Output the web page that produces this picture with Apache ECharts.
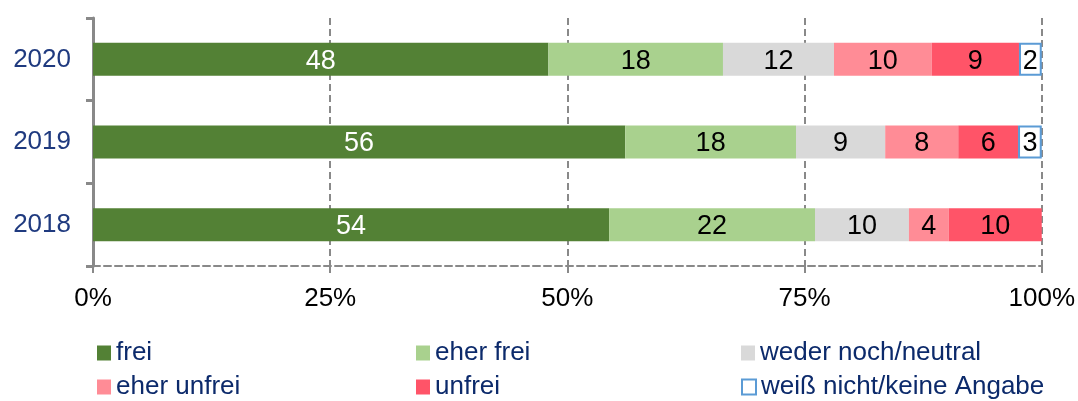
<!DOCTYPE html>
<html>
<head>
<meta charset="utf-8">
<script src="https://cdn.jsdelivr.net/npm/echarts@6/dist/echarts.min.js"></script>
<style>html,body{margin:0;padding:0;background:#fff}#c{width:1078px;height:401px}</style>
</head>
<body>
<div id="c"></div>
<script>
const years = ['2020', '2019', '2018'];
const seriesNames = ['frei', 'eher frei', 'weder noch/neutral', 'eher unfrei', 'unfrei', 'weiß nicht/keine Angabe'];
const frei = [48.0, 56.1, 54.4];
const eherFrei = [18.4, 18.0, 21.7];
const neutral = [11.7, 9.4, 9.9];
const eherUnfrei = [10.3, 7.7, 4.2];
const unfrei = [9.2, 6.3, 9.8];
const weissNicht = [2.4, 2.5, null];
const xTicks = [0, 25, 50, 75, 100];

const values = [frei, eherFrei, neutral, eherUnfrei, unfrei, weissNicht];
const colors = ['#538135', '#A9D18E', '#D9D9D9', '#FF8C96', '#FF5468', '#FFFFFF'];
const font = 'Liberation Sans, Arial, sans-serif';

const series = values.map((v, i) => ({
  name: seriesNames[i],
  type: 'bar',
  stack: 'total',
  barWidth: 33,
  data: v,
  itemStyle: i === 5 ? { color: '#FFFFFF', borderColor: '#5B9BD5', borderWidth: 2 } : { color: colors[i] },
  label: {
    show: true,
    position: 'inside',
    offset: [0, 2],
    color: i === 0 ? '#FFFFFF' : '#000000',
    fontFamily: font,
    fontSize: 27,
    formatter: p => (p.value == null ? '' : String(Math.round(p.value)))
  }
}));

const legendPos = [
  [97, 340], [416, 340], [741, 340],
  [97, 374], [416, 374], [741, 374]
];
const legends = seriesNames.map((n, i) => ({
  left: legendPos[i][0],
  top: legendPos[i][1],
  orient: 'horizontal',
  itemWidth: 14,
  itemHeight: 15,
  itemGap: 0,
  padding: 0,
  selectedMode: false,
  icon: 'rect',
  textStyle: { color: '#0C2A6B', fontFamily: font, fontSize: 26 },
  data: [i === 5 ? { name: n, itemStyle: { color: '#FFFFFF', borderColor: '#5B9BD5', borderWidth: 2 } } : { name: n }]
}));

const chart = echarts.init(document.getElementById('c'));
chart.setOption({
  animation: false,
  legend: legends,
  grid: { left: 93, right: 35, top: 18, bottom: 135, containLabel: false },
  xAxis: {
    type: 'value',
    min: xTicks[0],
    max: xTicks[xTicks.length - 1],
    interval: 25,
    axisLine: { show: true, lineStyle: { color: '#898989', width: 2, type: [7, 4] } },
    axisTick: { show: true, length: 8, lineStyle: { color: '#898989', width: 2, type: [7, 4] } },
    splitLine: { show: true, lineStyle: { color: '#898989', width: 2, type: [7, 4] } },
    axisLabel: { color: '#000', fontFamily: font, fontSize: 26, margin: 20, formatter: v => v + '%' }
  },
  yAxis: {
    type: 'category',
    inverse: true,
    data: years,
    axisLine: { show: true, lineStyle: { color: '#898989', width: 3 } },
    axisTick: { show: true, length: 7, lineStyle: { color: '#898989', width: 3 } },
    axisLabel: { color: '#1F3A7F', fontFamily: font, fontSize: 26, margin: 22 }
  },
  series: series
});
</script>
</body>
</html>
